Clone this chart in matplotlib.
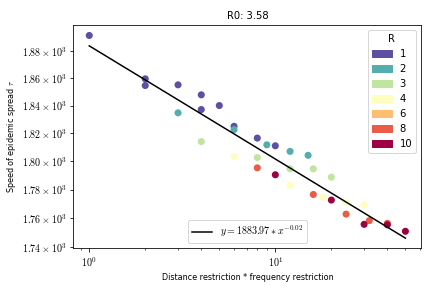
import numpy as np
import matplotlib
matplotlib.use("Agg")
import matplotlib.pyplot as plt
from matplotlib.colors import ListedColormap
from matplotlib.patches import Patch
import matplotlib.ticker as ticker

plt.rcParams["mathtext.fontset"] = "cm"

# distance restriction values (legend) and the products R * F per point
r_levels = [1, 2, 3, 4, 6, 8, 10]

R = [1, 1, 1, 1, 1,
     2, 2, 2, 2, 2,
     3, 3, 3, 3, 3,
     4, 4, 4, 4, 4,
     6, 6, 6, 6, 6,
     8, 8, 8, 8, 8,
     10, 10, 10, 10, 10]
restriction = [1, 2, 3, 4, 5,
               2, 4, 6, 8, 10,
               3, 6, 9, 12, 15,
               4, 8, 12, 16, 20,
               6, 12, 18, 24, 30,
               8, 16, 24, 32, 40,
               10, 20, 30, 40, 50]
speed = [1891.7, 1854.7, 1855.2, 1847.9, 1840.1,
         1859.6, 1837.2, 1825.1, 1816.6, 1811.1,
         1834.8, 1822.7, 1811.8, 1807.1, 1804.3,
         1814.1, 1802.7, 1794.7, 1794.7, 1788.8,
         1803.4, 1783.1, 1774.7, 1770.8, 1769.4,
         1795.4, 1776.6, 1762.9, 1758.4, 1756.5,
         1790.5, 1772.7, 1755.8, 1755.5, 1751.0]

# power law fit y = a * x^b
fit_a = 1883.97
fit_b = -0.0194

y_ticks = [1740, 1760, 1780, 1800, 1820, 1840, 1860, 1880]
y_ticklabels = [r"$%.2f\times10^{3}$" % (v / 1000) for v in y_ticks]
x_ticks = [1, 10]
x_ticklabels = [r"$10^{0}$", r"$10^{1}$"]

colors = plt.cm.Spectral_r(np.linspace(0, 1, len(r_levels)))
cmap = ListedColormap(colors)

fig, ax = plt.subplots(figsize=(6, 4), dpi=72)
fig.subplots_adjust(left=0.170, right=0.975, bottom=0.138, top=0.912)

ax.scatter(restriction, speed, c=R, cmap=cmap, s=50, linewidths=0)

xs = np.array([min(restriction), max(restriction)], dtype=float)
line, = ax.plot(xs, fit_a * xs ** fit_b, color="black")

ax.set_xscale("log")
ax.set_yscale("log")
ax.set_xticks(x_ticks, labels=x_ticklabels)
ax.xaxis.set_minor_formatter(ticker.NullFormatter())
ax.set_yticks(y_ticks, labels=y_ticklabels)
ax.yaxis.set_minor_locator(ticker.NullLocator())
ax.tick_params(labelsize=10)

ax.set_xlabel("Distance restriction * frequency restriction", fontsize=8)
ax.set_ylabel(r"Speed of epidemic spread $\tau$", fontsize=8)
ax.set_title("R0: 3.58", fontsize=10)

handles = [Patch(color=c, label=str(r)) for c, r in zip(colors, r_levels)]
leg1 = ax.legend(handles=handles, title="R", loc="upper right", fontsize=10)
ax.add_artist(leg1)
ax.legend([line], [r"$y = %.2f * x^{%.2f}$" % (fit_a, fit_b)],
          loc="lower center", fontsize=10)

plt.savefig("out.png")
